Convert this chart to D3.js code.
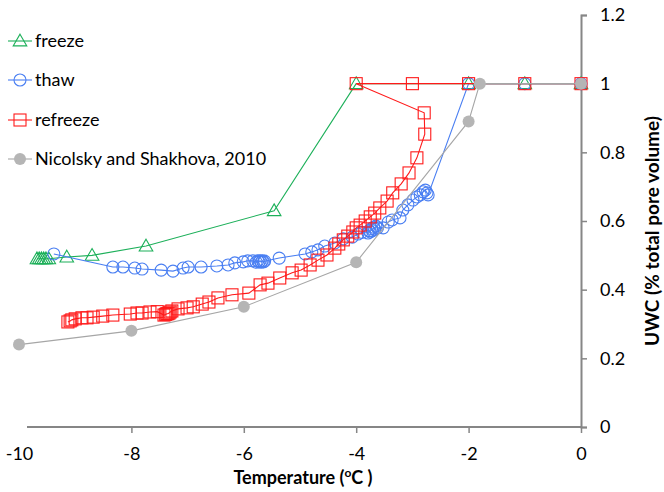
<!DOCTYPE html>
<html>
<head>
<meta charset="utf-8">
<script src="https://cdn.jsdelivr.net/npm/d3@7"></script>
<style>
  body { margin: 0; background: #fff; }
  text { font-family: Lato, "Open Sans", sans-serif; fill: #000; }
</style>
</head>
<body>
<svg width="664" height="492"></svg>
<script>
// temperature (C), uwc (fraction of pore volume)
const freeze = [
  [-9.68, 0.49], [-9.64, 0.49], [-9.6, 0.49], [-9.56, 0.49], [-9.52, 0.49], [-9.47, 0.49],
  [-9.15, 0.495], [-8.7, 0.5], [-7.74, 0.527], [-5.46, 0.63],
  [-4, 1], [-2, 1], [-1, 1], [0, 1]
]

const thaw = [
  [-9.38, 0.504], [-8.33, 0.466], [-8.15, 0.466], [-7.94, 0.463], [-7.81, 0.46],
  [-7.47, 0.457], [-7.26, 0.454], [-7.08, 0.463], [-6.99, 0.466], [-6.76, 0.466],
  [-6.48, 0.469], [-6.28, 0.472], [-6.16, 0.478], [-6.01, 0.481], [-5.93, 0.484],
  [-5.84, 0.484], [-5.78, 0.48], [-5.75, 0.484], [-5.73, 0.481], [-5.71, 0.484],
  [-5.69, 0.48], [-5.67, 0.484], [-5.65, 0.481], [-5.63, 0.483], [-5.37, 0.492],
  [-4.91, 0.504], [-4.79, 0.51], [-4.68, 0.516], [-4.56, 0.527], [-4.38, 0.536],
  [-4.23, 0.548], [-4.07, 0.553], [-3.97, 0.562], [-3.9, 0.567], [-3.79, 0.565],
  [-3.77, 0.572], [-3.75, 0.568], [-3.73, 0.578], [-3.71, 0.572], [-3.69, 0.582],
  [-3.67, 0.576], [-3.65, 0.585], [-3.62, 0.58], [-3.52, 0.58], [-3.43, 0.597],
  [-3.36, 0.603], [-3.22, 0.609], [-3.17, 0.632], [-3.08, 0.647], [-2.99, 0.661],
  [-2.92, 0.67], [-2.86, 0.676], [-2.81, 0.685], [-2.77, 0.69], [-2.74, 0.682],
  [-2.72, 0.676], [-2, 1], [-1, 1], [0, 1]
]

const refreeze = [
  [0, 1], [-1, 1], [-2, 1], [-3, 1], [-4, 1],
  [-2.79, 0.915], [-2.78, 0.853], [-2.92, 0.784], [-3.06, 0.74], [-3.2, 0.708],
  [-3.35, 0.682], [-3.45, 0.658], [-3.58, 0.638], [-3.67, 0.623], [-3.75, 0.612],
  [-3.84, 0.6], [-3.93, 0.588], [-4.0, 0.58], [-4.06, 0.568], [-4.15, 0.556],
  [-4.23, 0.545], [-4.31, 0.533], [-4.38, 0.521], [-4.52, 0.501], [-4.68, 0.486],
  [-4.82, 0.472], [-4.98, 0.457], [-5.14, 0.449], [-5.36, 0.434], [-5.57, 0.419],
  [-5.71, 0.414], [-5.91, 0.39], [-6.21, 0.385], [-6.46, 0.376], [-6.62, 0.364],
  [-6.74, 0.358], [-6.9, 0.35], [-7.01, 0.347], [-7.17, 0.344], [-7.28, 0.338],
  [-7.31, 0.335], [-7.33, 0.332], [-7.35, 0.33], [-7.37, 0.33], [-7.39, 0.328],
  [-7.42, 0.326], [-7.54, 0.336], [-7.67, 0.335], [-7.81, 0.332], [-7.9, 0.332],
  [-8.02, 0.329], [-8.33, 0.326], [-8.51, 0.323], [-8.68, 0.32], [-8.79, 0.318],
  [-8.88, 0.318], [-9.0, 0.315], [-9.06, 0.312], [-9.09, 0.309], [-9.13, 0.306]
]

const nicolsky = [
  [-10, 0.24], [-8, 0.28], [-6, 0.35], [-4, 0.48], [-2, 0.89], [-1.8, 1], [0, 1]
]

const xTicks = [-10, -8, -6, -4, -2, 0]
const yTicks = [0, 0.2, 0.4, 0.6, 0.8, 1, 1.2]
const names = ['freeze', 'thaw', 'refreeze', 'Nicolsky and Shakhova, 2010']

const svg = d3.select('svg')
const axisCol = '#868686'

const x = d3.scaleLinear().domain([-10, 0]).range([19, 581])
const y = d3.scaleLinear().domain([0, 1.2]).range([427, 15])

// axes
const xAxis = svg.append('g')
    .attr('transform', `translate(0,${y(0)})`)
    .call(d3.axisBottom(x).tickValues(xTicks).tickSize(6).tickPadding(14)
      .tickFormat(d => String(d)))
xAxis.select('.domain').remove()
xAxis.selectAll('.tick line').attr('stroke', axisCol).attr('stroke-width', 1.5)
    .filter(d => d === -10).remove()
xAxis.selectAll('.tick text').attr('font-size', 18).attr('font-family', 'Lato')
xAxis.append('line')
    .attr('x1', 27).attr('x2', x(0))
    .attr('stroke', axisCol).attr('stroke-width', 2)

const yAxis = svg.append('g')
    .attr('transform', `translate(${x(0)},0)`)
    .call(d3.axisRight(y).tickValues(yTicks).tickSize(6).tickPadding(13).tickFormat(d => d))
yAxis.select('.domain').attr('stroke', axisCol).attr('stroke-width', 2)
yAxis.selectAll('.tick line').attr('stroke', axisCol).attr('stroke-width', 1.5)
yAxis.selectAll('.tick text').attr('font-size', 18).attr('font-family', 'Lato')

// axis titles
const xt = svg.append('text')
    .attr('x', 303).attr('y', 484)
    .attr('text-anchor', 'middle')
    .attr('font-size', 18).attr('font-weight', 'bold')
xt.append('tspan').text('Temperature (')
xt.append('tspan').text('o').attr('font-size', 12).attr('dy', -7)
xt.append('tspan').text('C )').attr('dy', 7)

svg.append('text')
    .attr('transform', 'translate(659,231) rotate(-90)')
    .attr('text-anchor', 'middle')
    .attr('font-size', 19).attr('font-weight', 'bold')
    .text('UWC (% total pore volume)')

// marker drawing
const tri = d3.symbol().type(d3.symbolTriangle).size(80)
function marker(g, kind) {
  if (kind === 'tri') {
    g.append('path').attr('d', tri()).attr('transform', 'translate(0,1)')
      .attr('fill', 'none').attr('stroke', '#1db05a').attr('stroke-width', 1.1)
  } else if (kind === 'circ') {
    g.append('circle').attr('r', 6)
      .attr('fill', 'none').attr('stroke', '#4a7ff2').attr('stroke-width', 1.1)
  } else if (kind === 'sq') {
    g.append('rect').attr('x', -6).attr('y', -6).attr('width', 12).attr('height', 12)
      .attr('fill', 'none').attr('stroke', '#ff1a1a').attr('stroke-width', 1.1)
  } else {
    g.append('circle').attr('r', 6).attr('fill', '#b5b5b5').attr('stroke', 'none')
  }
}

const series = [
  {data: freeze, col: '#1db05a', kind: 'tri'},
  {data: thaw, col: '#4a7ff2', kind: 'circ'},
  {data: refreeze, col: '#ff1a1a', kind: 'sq'},
  {data: nicolsky, col: '#a6a6a6', kind: 'dot'}
]

const line = d3.line().x(d => x(d[0])).y(d => y(d[1]))

series.forEach(s => {
  const g = svg.append('g')
  g.append('path')
    .attr('d', line(s.data))
    .attr('fill', 'none')
    .attr('stroke', s.col)
    .attr('stroke-width', 1.1)
  g.selectAll('g.pt')
    .data(s.data)
    .join('g')
    .attr('class', 'pt')
    .attr('transform', d => `translate(${x(d[0])},${y(d[1])})`)
    .each(function() { marker(d3.select(this), s.kind) })
})

// legend
const legY = [41, 80, 120, 159]
series.forEach((s, i) => {
  const g = svg.append('g').attr('transform', `translate(20,${legY[i]})`)
  g.append('line').attr('x1', -12).attr('x2', 12)
    .attr('stroke', s.col).attr('stroke-width', 1.1)
  marker(g, s.kind)
  g.append('text').attr('x', 15).attr('y', 6)
    .attr('font-size', 18)
    .text(names[i])
})
</script>
</body>
</html>
